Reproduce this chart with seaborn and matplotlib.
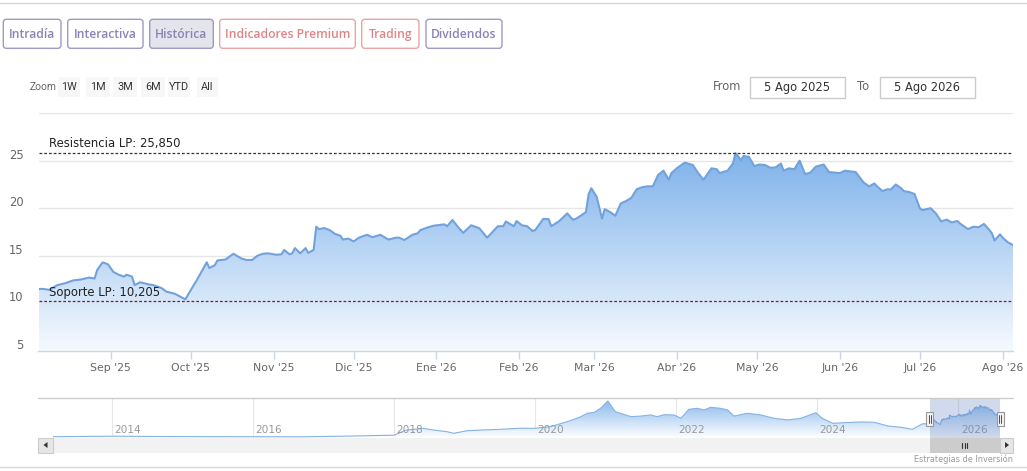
import numpy as np
import pandas as pd
import matplotlib
matplotlib.use("Agg")
import matplotlib.pyplot as plt
import matplotlib.dates as mdates
from matplotlib.colors import to_rgb
from matplotlib.patches import FancyBboxPatch, Rectangle, Polygon
from matplotlib.transforms import ScaledTranslation
import seaborn as sns

# ---------------- data ----------------
dates = [
    "2025-08-05", "2025-08-07", "2025-08-09", "2025-08-12", "2025-08-15", "2025-08-18",
    "2025-08-21", "2025-08-24", "2025-08-26", "2025-08-27", "2025-08-29", "2025-08-31",
    "2025-09-02", "2025-09-04", "2025-09-06", "2025-09-07", "2025-09-09", "2025-09-10",
    "2025-09-12", "2025-09-15", "2025-09-17", "2025-09-20", "2025-09-22", "2025-09-25",
    "2025-09-27", "2025-09-29", "2025-09-30", "2025-10-03", "2025-10-07", "2025-10-08",
    "2025-10-10", "2025-10-11", "2025-10-14", "2025-10-17", "2025-10-20", "2025-10-22",
    "2025-10-24", "2025-10-26", "2025-10-28", "2025-10-30", "2025-11-02", "2025-11-04",
    "2025-11-05", "2025-11-07", "2025-11-08", "2025-11-09", "2025-11-11", "2025-11-13",
    "2025-11-14", "2025-11-16", "2025-11-17", "2025-11-18", "2025-11-20", "2025-11-22",
    "2025-11-24", "2025-11-26", "2025-11-27", "2025-11-29", "2025-12-01", "2025-12-03",
    "2025-12-06", "2025-12-08", "2025-12-11", "2025-12-14", "2025-12-17", "2025-12-18",
    "2025-12-20", "2025-12-23", "2025-12-25", "2025-12-26", "2025-12-29", "2025-12-31",
    "2026-01-04", "2026-01-05", "2026-01-07", "2026-01-09", "2026-01-11", "2026-01-14",
    "2026-01-17", "2026-01-20", "2026-01-24", "2026-01-26", "2026-01-27", "2026-01-30",
    "2026-01-31", "2026-02-02", "2026-02-04", "2026-02-06", "2026-02-07", "2026-02-10",
    "2026-02-12", "2026-02-13", "2026-02-16", "2026-02-19", "2026-02-21", "2026-02-22",
    "2026-02-24", "2026-02-26", "2026-02-27", "2026-02-28", "2026-03-02", "2026-03-04",
    "2026-03-05", "2026-03-07", "2026-03-09", "2026-03-11", "2026-03-13", "2026-03-15",
    "2026-03-17", "2026-03-19", "2026-03-21", "2026-03-23", "2026-03-25", "2026-03-27",
    "2026-03-29", "2026-03-30", "2026-04-01", "2026-04-04", "2026-04-07", "2026-04-09",
    "2026-04-11", "2026-04-12", "2026-04-14", "2026-04-16", "2026-04-17", "2026-04-20",
    "2026-04-22", "2026-04-23", "2026-04-25", "2026-04-26", "2026-04-28", "2026-04-30",
    "2026-05-02", "2026-05-04", "2026-05-06", "2026-05-08", "2026-05-10", "2026-05-11",
    "2026-05-13", "2026-05-15", "2026-05-17", "2026-05-19", "2026-05-21", "2026-05-23",
    "2026-05-26", "2026-05-28", "2026-06-01", "2026-06-03", "2026-06-07", "2026-06-09",
    "2026-06-10", "2026-06-12", "2026-06-14", "2026-06-15", "2026-06-17", "2026-06-19",
    "2026-06-20", "2026-06-22", "2026-06-24", "2026-06-25", "2026-06-27", "2026-06-29",
    "2026-07-01", "2026-07-02", "2026-07-05", "2026-07-07", "2026-07-09", "2026-07-11",
    "2026-07-13", "2026-07-15", "2026-07-16", "2026-07-19", "2026-07-21", "2026-07-23",
    "2026-07-25", "2026-07-26", "2026-07-28", "2026-07-29", "2026-07-31", "2026-08-01",
    "2026-08-03", "2026-08-05",
]
prices = [
    11.5, 11.5, 11.4, 11.9, 12.1, 12.4,
    12.5, 12.7, 12.6, 13.5, 14.3, 14.1,
    13.3, 13.0, 12.8, 13.0, 12.8, 11.9,
    12.2, 12.0, 11.9, 11.6, 11.2, 11.0,
    10.7, 10.4, 10.9, 12.3, 14.3, 13.7,
    14.0, 14.5, 14.6, 15.2, 14.7, 14.55,
    14.55, 15.0, 15.2, 15.25, 15.1, 15.15,
    15.6, 15.15, 15.25, 15.8, 15.25, 15.8,
    15.3, 15.6, 18.05, 17.8, 17.9, 17.7,
    17.3, 17.1, 16.7, 16.8, 16.5, 16.9,
    17.2, 16.95, 17.2, 16.7, 16.9, 16.9,
    16.65, 17.2, 17.36, 17.7, 18.0, 18.16,
    18.3, 18.1, 18.76, 18.05, 17.4, 18.2,
    17.9, 16.9, 18.1, 18.1, 18.6, 18.1,
    18.65, 18.2, 18.1, 17.6, 17.7, 18.87,
    18.85, 18.1, 18.65, 19.46, 18.8, 18.85,
    19.2, 19.6, 21.5, 22.1, 21.2, 18.9,
    19.9, 19.6, 19.2, 20.5, 20.75, 21.1,
    22.0, 22.2, 22.3, 22.3, 23.5, 23.95,
    23.0, 23.7, 24.2, 24.8, 24.55, 23.7,
    23.0, 23.4, 24.2, 24.1, 23.7, 23.95,
    24.7, 25.8, 25.07, 25.5, 25.4, 24.44,
    24.6, 24.55, 24.26, 24.3, 24.7, 23.95,
    24.2, 24.1, 25.0, 23.6, 23.74, 24.37,
    24.6, 23.8, 23.7, 23.95, 23.8, 23.05,
    22.7, 22.3, 22.6, 22.3, 21.8, 22.0,
    21.95, 22.5, 22.1, 21.8, 21.7, 21.5,
    20.0, 19.8, 20.0, 19.46, 18.6, 18.8,
    18.5, 18.65, 18.4, 17.8, 18.05, 18.0,
    18.34, 18.05, 17.36, 16.6, 17.25, 16.9,
    16.4, 16.1,
]

# long history shown in the navigator (before the selected year)
hist_dates = [
    "2013-03-01", "2014-01-01", "2014-10-10", "2016-01-01", "2016-09-01", "2017-05-15",
    "2018-01-01", "2018-03-01", "2018-06-01", "2018-07-20", "2018-10-01", "2018-11-05",
    "2019-01-15", "2019-04-08", "2019-07-05", "2019-10-15", "2019-12-28", "2020-03-20",
    "2020-06-15", "2020-07-20", "2020-08-25", "2020-09-27", "2020-11-02", "2020-12-05",
    "2021-01-12", "2021-01-26", "2021-02-20", "2021-03-18", "2021-05-12", "2021-07-01",
    "2021-08-22", "2021-09-24", "2021-10-30", "2021-12-20", "2022-01-26", "2022-03-07",
    "2022-04-20", "2022-05-26", "2022-06-28", "2022-08-18", "2022-09-24", "2022-10-27",
    "2023-01-05", "2023-03-15", "2023-05-23", "2023-08-01", "2023-10-09", "2023-12-25",
    "2024-01-27", "2024-03-22", "2024-05-20", "2024-08-15", "2024-10-23", "2025-01-01",
    "2025-03-12", "2025-05-08", "2025-06-28",
]
hist_prices = [
    0.8, 1.2, 0.9, 0.8, 0.7, 1.3,
    2.0, 6.0, 7.5, 6.2, 4.8, 3.5,
    5.6, 6.2, 6.7, 7.6, 7.5, 8.8,
    12.8, 14.7, 16.8, 19.5, 20.3, 23.5,
    29.4, 26.2, 20.8, 19.5, 16.8, 17.3,
    18.2, 16.8, 18.4, 18.2, 15.5, 22.7,
    23.5, 22.2, 24.3, 23.5, 22.2, 17.3,
    19.5, 18.2, 15.5, 14.2, 15.5, 20.0,
    15.5, 11.5, 12.0, 12.6, 12.3, 9.4,
    8.3, 6.7, 11.0,
]

month_ticks = ["2025-09-01", "2025-10-01", "2025-11-01", "2025-12-01", "2026-01-01", "2026-02-01",
               "2026-03-01", "2026-04-01", "2026-05-01", "2026-06-01", "2026-07-01", "2026-08-01"]
month_labels = ["Sep '25", "Oct '25", "Nov '25", "Dic '25", "Ene '26", "Feb '26",
                "Mar '26", "Abr '26", "May '26", "Jun '26", "Jul '26", "Ago '26"]
y_ticks = [5, 10, 15, 20, 25]
resistencia = 25.85
soporte = 10.205
resistencia_label = "Resistencia LP: 25,850"
soporte_label = "Soporte LP: 10,205"
nav_years = [2014, 2016, 2018, 2020, 2022, 2024, 2026]
tab_labels = ["Intradía", "Interactiva", "Histórica", "Indicadores Premium", "Trading", "Dividendos"]
zoom_labels = ["1W", "1M", "3M", "6M", "YTD", "All"]
range_from = "5 Ago 2025"
range_to = "5 Ago 2026"
credit = "Estrategias de Inversión"

# ---------------- layout / style ----------------
W, H = 1027, 471
sns.set_style("white")
plt.rcParams["font.family"] = ["DejaVu Sans"]

fig = plt.figure(figsize=(W / 100, H / 100), dpi=100)
fig.patch.set_facecolor("white")


def px_axes(x0, y0, x1, y1):
    return fig.add_axes([x0 / W, 1 - y1 / H, (x1 - x0) / W, (y1 - y0) / H])


def px_off(dx, dy):
    return ScaledTranslation(dx / 100, dy / 100, fig.dpi_scale_trans)


def gradient_area(ax, x, y, base, top_val, bot_val, c_top, c_bot, zorder=1):
    poly = ax.fill_between(x, y, base, facecolor="none", edgecolor="none")
    xn = mdates.date2num(x)
    t = np.linspace(0, 1, 256)[:, None]
    ct, cb = np.array(to_rgb(c_top)), np.array(to_rgb(c_bot))
    img = (cb + (ct - cb) * t)[:, None, :]
    im = ax.imshow(img, extent=[xn.min(), xn.max(), bot_val, top_val], origin="lower",
                   aspect="auto", zorder=zorder, interpolation="bilinear")
    im.set_clip_path(poly.get_paths()[0], transform=ax.transData)


LINE = "#72a2dc"
GRID = "#e6e6e6"
AXC = "#ccd6eb"
LBL = "#666666"

# ---------------- main chart ----------------
x_main = pd.to_datetime(pd.Series(dates))
y_main = pd.Series(prices)
ax = px_axes(38.5, 113.2, 1013.3, 350.7)
sns.lineplot(x=x_main, y=y_main, ax=ax, color=LINE, linewidth=1.5, zorder=3)
gradient_area(ax, x_main, y_main, 0, max(prices), 5, "#7fb2ea", "#f6faff", zorder=2)
ax.set_xlim(x_main.iloc[0], x_main.iloc[-1])
ax.set_ylim(5, 30)
ax.set_yticks(list(range(5, 31, 5)))
ax.set_yticklabels([])
ax.tick_params(axis="y", length=0)
ax.grid(axis="y", color=GRID, linewidth=1, zorder=0)
ax.grid(axis="x", visible=False)
ax.set_xticks(pd.to_datetime(month_ticks))
ax.set_xticklabels(month_labels)
ax.tick_params(axis="x", length=6, width=1, color=AXC, labelcolor=LBL, labelsize=7.8, pad=2.5,
               direction="out", bottom=True)
for s in ["top", "right", "left"]:
    ax.spines[s].set_visible(False)
ax.spines["bottom"].set_color(AXC)
ax.spines["bottom"].set_linewidth(1)
ax.set_xlabel("")
ax.set_ylabel("")
ax.set_facecolor("white")

ytr = ax.get_yaxis_transform() + px_off(-15, 5.5)
for v in y_ticks:
    ax.text(0, v, str(v), transform=ytr, ha="right", va="center", color=LBL, fontsize=8.3)

ax.axhline(resistencia, color="#333333", linewidth=0.9, linestyle=(0, (2.2, 1.6)), zorder=4)
ax.axhline(soporte, color="#7a1f2b", linewidth=0.9, linestyle=(0, (2.2, 1.6)), zorder=4)
ax.text(0, resistencia, resistencia_label, transform=ax.get_yaxis_transform() + px_off(10.5, 9),
        ha="left", va="center", fontsize=8.4, color="#222222", zorder=5)
ax.text(0, soporte, soporte_label, transform=ax.get_yaxis_transform() + px_off(10.5, 8.5),
        ha="left", va="center", fontsize=8.4, color="#222222", zorder=5)

# ---------------- navigator ----------------
NAV_L, NAV_R, NAV_T, NAV_B = 53, 1000, 398.3, 437.7
x_nav = pd.to_datetime(pd.Series(hist_dates + dates))
y_nav = pd.Series(hist_prices + prices)
axn = px_axes(NAV_L, NAV_T, NAV_R, NAV_B)
sns.lineplot(x=x_nav, y=y_nav, ax=axn, color="#84b3e6", linewidth=0.8, zorder=3)
gradient_area(axn, x_nav, y_nav, 0, max(y_nav), 0, "#8dbbec", "#ffffff", zorder=2)
axn.set_xlim(x_nav.iloc[0], x_nav.iloc[-1])
axn.set_ylim(0, 31.5)
year_dates = pd.to_datetime([f"{yr}-01-01" for yr in nav_years])
axn.set_xticks(year_dates)
axn.set_xticklabels([])
axn.set_yticks([])
axn.tick_params(length=0)
axn.grid(axis="x", color=GRID, linewidth=0.8, zorder=0)
for s in axn.spines.values():
    s.set_visible(False)
axn.set_xlabel("")
axn.set_ylabel("")
ntr = axn.get_xaxis_transform() + px_off(2.5, 0)
for d, yr in zip(year_dates, nav_years):
    axn.text(d, 0.2, str(yr), transform=ntr, ha="left", va="center", color="#999999",
             fontsize=7.6, zorder=4)
axn.axvspan(x_main.iloc[0], x_main.iloc[-1], color="#6685c2", alpha=0.3, lw=0, zorder=4)

# ---------------- overlay (UI chrome, pixel coordinates) ----------------
ov = fig.add_axes([0, 0, 1, 1])
ov.set_xlim(0, W)
ov.set_ylim(H, 0)
ov.axis("off")

ov.plot([0, W], [3.3, 3.3], color="#d5d5d5", lw=1)
ov.plot([0, W], [467.3, 467.3], color="#d5d5d5", lw=1)

PURPLE, PURPLE_B = "#8a83b5", "#9f99c6"
SALMON, SALMON_B = "#e08585", "#e9a5a5"
tab_boxes = [(3.3, 61), (67.7, 143), (149.7, 213.3), (219.7, 355.3), (361.7, 419), (426, 502)]
tab_style = [(PURPLE, PURPLE_B, "white"), (PURPLE, PURPLE_B, "white"), (PURPLE, PURPLE_B, "#e4e4ec"),
             (SALMON, SALMON_B, "white"), (SALMON, SALMON_B, "white"), (PURPLE, PURPLE_B, "white")]
for (x0, x1), lab, (tc, bc, fc) in zip(tab_boxes, tab_labels, tab_style):
    ov.add_patch(FancyBboxPatch((x0, 19.3), x1 - x0, 29, boxstyle="round,pad=0,rounding_size=3",
                                facecolor=fc, edgecolor=bc, lw=1))
    ov.text((x0 + x1) / 2, 34.3, lab, ha="center", va="center", color=tc, fontsize=8.7,
            fontweight="semibold", family=["Open Sans", "DejaVu Sans"])

ov.text(30, 87.3, "Zoom", ha="left", va="center", color=LBL, fontsize=7.4,
        family=["Roboto", "DejaVu Sans"])
zoom_boxes = [(57.7, 80), (86, 110), (113, 137), (141, 165), (167.7, 190), (196.7, 218)]
for (x0, x1), lab in zip(zoom_boxes, zoom_labels):
    ov.add_patch(Rectangle((x0, 77), x1 - x0, 20.3, facecolor="#f7f7f7", edgecolor="none"))
    ov.text((x0 + x1) / 2, 87, lab, ha="center", va="center", color="#333333", fontsize=7.8,
            family=["Roboto", "DejaVu Sans"])

ov.text(713.3, 87, "From", ha="left", va="center", color=LBL, fontsize=8.3)
ov.text(856.7, 87, "To", ha="left", va="center", color=LBL, fontsize=8.3)
for (x0, x1), lab in zip([(750, 845), (880, 975)], [range_from, range_to]):
    ov.add_patch(Rectangle((x0, 77.3), x1 - x0, 21, facecolor="white", edgecolor="#cccccc", lw=1))
    ov.text((x0 + x1) / 2, 87.5, lab, ha="center", va="center", color="#333333", fontsize=8.3)

# navigator frame + scrollbar
ov.plot([38.3, 1013.3], [398.3, 398.3], color="#cccccc", lw=1)
nav_span = (x_nav.iloc[-1] - x_nav.iloc[0]).days
sel0 = NAV_L + (x_main.iloc[0] - x_nav.iloc[0]).days / nav_span * (NAV_R - NAV_L)
sel1 = NAV_L + (x_main.iloc[-1] - x_nav.iloc[0]).days / nav_span * (NAV_R - NAV_L)
SB_T, SB_B = 437.7, 452.5
ov.add_patch(Rectangle((38.3, SB_T), 1013.3 - 38.3, SB_B - SB_T, facecolor="#f2f2f2", edgecolor="none"))
ov.add_patch(Rectangle((sel0, SB_T), sel1 - sel0, SB_B - SB_T, facecolor="#cccccc", edgecolor="none"))
cx = (sel0 + sel1) / 2
for dx in (-2.5, 0, 2.5):
    ov.plot([cx + dx, cx + dx], [442.5, 447.5], color="#333333", lw=0.8)
for bx0, bx1, pts in [(38.3, 53, [(47.5, 442), (47.5, 448), (43.5, 445)]),
                      (1000, 1013.3, [(1005, 442), (1005, 448), (1009, 445)])]:
    ov.add_patch(Rectangle((bx0, SB_T), bx1 - bx0, SB_B - SB_T, facecolor="#e6e6e6",
                           edgecolor="#cccccc", lw=0.8))
    ov.add_patch(Polygon(pts, closed=True, facecolor="#333333", edgecolor="none"))
for hx in (sel0, sel1):
    ov.add_patch(Rectangle((hx - 3.5, 411.7), 7, 14, facecolor="#f2f2f2", edgecolor="#999999", lw=0.8))
    for dx in (-1, 1):
        ov.plot([hx + dx, hx + dx], [415, 422.5], color="#333333", lw=0.6)

ov.text(1013.3, 459.3, credit, ha="right", va="center", color="#999999", fontsize=5.9)

fig.savefig("out.png", dpi=100, facecolor="white")
